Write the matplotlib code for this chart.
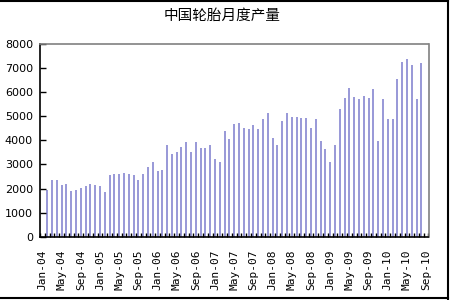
import matplotlib
matplotlib.use('Agg')
import matplotlib.pyplot as plt
import numpy as np
from matplotlib.lines import Line2D

title = "中国轮胎月度产量"
month_names = ['Jan', 'Feb', 'Mar', 'Apr', 'May', 'Jun',
               'Jul', 'Aug', 'Sep', 'Oct', 'Nov', 'Dec']
years = ['04', '05', '06', '07', '08', '09', '10']
# category axis: Jan-04 ... Sep-10
categories = [f"{m}-{y}" for y in years for m in month_names][:81]

# monthly production, Feb-04 ... Aug-10
first_month = 'Feb-04'
production = [
    1950, 2370, 2370, 2130, 2200, 1900, 1950, 2030, 2090, 2200, 2130, 2120,
    1840, 2550, 2610, 2610, 2660, 2600, 2560, 2370, 2610, 2910, 3085, 2720,
    2790, 3800, 3430, 3500, 3740, 3910, 3500, 3910, 3680, 3680, 3805, 3215,
    3090, 4395, 4040, 4670, 4700, 4505, 4450, 4620, 4450, 4860, 5110, 4095,
    3805, 4810, 5110, 4980, 4980, 4920, 4920, 4505, 4860, 3985, 3635, 3090,
    3805, 5290, 5760, 6180, 5770, 5700, 5815, 5750, 6110, 3985, 5700, 4860,
    4860, 6525, 7250, 7350, 7130, 5700, 7185,
]
tick_labels = categories[::4]
y_ticks = list(range(0, 8001, 1000))

fig = plt.figure(figsize=(4.5, 3), dpi=100)
ax = fig.add_axes([40 / 450, 1 - 237 / 300, 388.5 / 450, 193.5 / 300])

start = categories.index(first_month)
x = np.arange(start, start + len(production))
ax.bar(x, production, width=0.42, color='#9a9ad8', linewidth=0)

ax.set_xlim(-0.5, len(categories) - 0.5)
ax.set_ylim(0, 8000)

# y axis
ax.set_yticks(y_ticks)
ax.set_yticklabels([str(v) for v in y_ticks], fontsize=8, family='DejaVu Sans')
ax.tick_params(axis='y', direction='in', length=4, width=1, color='black', pad=5)

# x axis: ticks at category boundaries, labels every 4 months
ax.set_xticks(np.arange(-0.5, len(categories)), minor=False)
ax.set_xticklabels([], minor=False)
ax.tick_params(axis='x', which='major', direction='in', length=3, width=1, color='black')
label_pos = [categories.index(t) for t in tick_labels]
ax.set_xticks(label_pos, minor=True)
ax.set_xticklabels(tick_labels, minor=True, rotation=90, fontsize=8,
                   family='DejaVu Sans Mono')
ax.tick_params(axis='x', which='minor', length=0, pad=9)

for s in ['left', 'bottom']:
    ax.spines[s].set_color('black')
    ax.spines[s].set_linewidth(1.2)
for s in ['top', 'right']:
    ax.spines[s].set_color('#808080')
    ax.spines[s].set_linewidth(1.2)

fig.text(0.493, 0.947, title, ha='center', va='center', fontsize=10.5,
         family=['Noto Sans CJK SC', 'DejaVu Sans'])

# outer frame (top, right, bottom)
for xs, ys in [([0, 0.996], [0.996, 0.996]), ([0.996, 0.996], [0.004, 0.996]),
               ([0, 0.996], [0.006, 0.006])]:
    fig.add_artist(Line2D(xs, ys, transform=fig.transFigure, color='black', lw=1.5))

fig.savefig('out.png', dpi=100)
